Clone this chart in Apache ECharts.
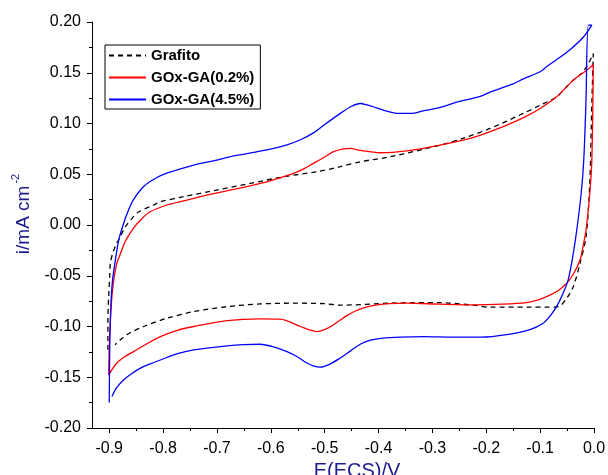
<!DOCTYPE html>
<html>
<head>
<meta charset="utf-8">
<script src="https://cdn.jsdelivr.net/npm/echarts@6/dist/echarts.min.js"></script>
<style>
  html, body { margin: 0; padding: 0; background: #fff; }
  #cv { width: 608px; height: 475px; }
</style>
</head>
<body>
<div id="cv"></div>
<script>
// cyclic voltammograms, values
// each loop: up the -0.9 edge, anodic branch to 0.0, down, cathodic branch back

const grafitoE = [-0.9025, -0.9025, -0.901, -0.899, -0.898, -0.893, -0.886, -0.8825, -0.870, -0.855, -0.845, -0.8176, -0.805, -0.762, -0.700, -0.638, -0.5765, -0.5145, -0.471, -0.434, -0.3785, -0.2857, -0.240, -0.193, -0.131, -0.100, -0.069, -0.057, -0.040, -0.026, -0.0135, -0.0013,
  -0.002, -0.004, -0.008, -0.0148, -0.026, -0.0384, -0.0506, -0.066, -0.090, -0.119, -0.193, -0.224, -0.2857, -0.3785, -0.471, -0.500, -0.558, -0.620, -0.681, -0.743, -0.793, -0.836, -0.867, -0.889];
const grafitoI = [-0.123, -0.095, -0.070, -0.050, -0.0377, -0.027, -0.018, -0.0148, -0.0017, 0.0082, 0.013, 0.0197, 0.0229, 0.0279, 0.0344, 0.041, 0.0475, 0.0525, 0.0574, 0.0623, 0.0672, 0.0787, 0.086, 0.0951, 0.110, 0.118, 0.1263, 0.1329, 0.142, 0.148, 0.156, 0.169,
  0.169, 0.120, 0.040, -0.0115, -0.0377, -0.0607, -0.0722, -0.0804, -0.081, -0.081, -0.081, -0.079, -0.0765, -0.077, -0.079, -0.0775, -0.077, -0.0778, -0.0804, -0.0853, -0.0919, -0.100, -0.108, -0.118];

const ga02E = [-0.901, -0.900, -0.898, -0.895, -0.891, -0.886, -0.8825, -0.870, -0.855, -0.840, -0.824, -0.793, -0.760, -0.731, -0.669, -0.607, -0.580, -0.558, -0.540, -0.521, -0.500, -0.4836, -0.465, -0.4527, -0.434, -0.410, -0.397, -0.3475, -0.2857, -0.224, -0.162, -0.130, -0.100, -0.070, -0.0384, -0.015, -0.0013,
  -0.002, -0.004, -0.008, -0.0148, -0.020, -0.026, -0.038, -0.0506, -0.065, -0.0755, -0.088, -0.105, -0.125, -0.170, -0.224, -0.2857, -0.3475, -0.380, -0.405, -0.425, -0.442, -0.458, -0.475, -0.492, -0.5145, -0.530, -0.545, -0.5826, -0.620, -0.681, -0.743, -0.775, -0.805, -0.830, -0.855, -0.872, -0.886, -0.901];
const ga02I = [-0.148, -0.120, -0.095, -0.0705, -0.052, -0.0377, -0.0328, -0.016, -0.003, 0.006, 0.013, 0.0197, 0.024, 0.028, 0.035, 0.0426, 0.047, 0.0509, 0.055, 0.0607, 0.067, 0.0722, 0.075, 0.0755, 0.0735, 0.0718, 0.0712, 0.0731, 0.0787, 0.0863, 0.0984, 0.106, 0.1148, 0.126, 0.1427, 0.152, 0.158,
  0.158, 0.064, 0.030, -0.005, -0.020, -0.0344, -0.048, -0.0574, -0.064, -0.0673, -0.0705, -0.074, -0.0764, -0.078, -0.0787, -0.078, -0.077, -0.0775, -0.0790, -0.0812, -0.0845, -0.0890, -0.0950, -0.1010, -0.105, -0.103, -0.100, -0.0928, -0.0925, -0.0942, -0.100, -0.104, -0.110, -0.117, -0.1247, -0.130, -0.136, -0.1476];

const ga45E = [-0.900, -0.899, -0.897, -0.894, -0.889, -0.882, -0.873, -0.864, -0.855, -0.836, -0.814, -0.793, -0.743, -0.700, -0.669, -0.607, -0.570, -0.545, -0.520, -0.500, -0.471, -0.450, -0.434, -0.420, -0.410, -0.390, -0.363, -0.340, -0.317, -0.285, -0.255, -0.210, -0.193, -0.150, -0.131, -0.100, -0.088, -0.069, -0.044, -0.020, -0.004,
  -0.0105, -0.015, -0.019, -0.024, -0.032, -0.040, -0.048, -0.058, -0.069, -0.082, -0.095, -0.119, -0.162, -0.210, -0.260, -0.317, -0.360, -0.392, -0.415, -0.434, -0.452, -0.471, -0.490, -0.508, -0.520, -0.533, -0.550, -0.570, -0.595, -0.620, -0.650, -0.681, -0.743, -0.775, -0.805, -0.825, -0.842, -0.860, -0.873, -0.886, -0.895];
const ga45I = [-0.175, -0.120, -0.080, -0.055, -0.036, -0.014, 0.002, 0.015, 0.025, 0.038, 0.046, 0.051, 0.059, 0.064, 0.068, 0.074, 0.079, 0.084, 0.091, 0.099, 0.110, 0.117, 0.1197, 0.118, 0.1165, 0.113, 0.110, 0.110, 0.1125, 0.116, 0.121, 0.127, 0.131, 0.139, 0.144, 0.151, 0.156, 0.163, 0.173, 0.185, 0.197,
  0.197, 0.120, 0.064, 0.030, -0.005, -0.033, -0.054, -0.068, -0.080, -0.090, -0.097, -0.103, -0.108, -0.1105, -0.1105, -0.110, -0.1105, -0.1115, -0.1135, -0.1175, -0.124, -0.131, -0.137, -0.140, -0.139, -0.136, -0.130, -0.1247, -0.120, -0.1175, -0.1178, -0.119, -0.123, -0.127, -0.133, -0.137, -0.141, -0.147, -0.1525, -0.160, -0.169];

const seriesNames = ['Grafito', 'GOx-GA(0.2%)', 'GOx-GA(4.5%)'];
const xTicks = [-0.9, -0.8, -0.7, -0.6, -0.5, -0.4, -0.3, -0.2, -0.1, 0.0];
const xMinorTicks = [-0.85, -0.75, -0.65, -0.55, -0.45, -0.35, -0.25, -0.15, -0.05];

function pairs(es, is) {
  return es.map((e, k) => [e, is[k]]);
}

const navy = '#1c1c8f';
const font = 'Liberation Sans, Arial, sans-serif';

let chartDom = document.getElementById('cv');
var chart = echarts.init(chartDom, null, { renderer: 'canvas' });

const option = {
  animation: false,
  backgroundColor: '#fff',
  grid: { left: 92, right: 14, top: 22, bottom: 47, outerBoundsMode: 'none', containLabel: false },
  legend: {
    left: 105,
    top: 45,
    orient: 'vertical',
    borderColor: '#000',
    borderWidth: 1,
    borderRadius: 0,
    padding: [3, 6, 2, 3],
    itemGap: 7,
    itemWidth: 37,
    itemHeight: 14,
    itemStyle: { opacity: 0 },
    textStyle: { fontFamily: font, fontWeight: 'bold', fontSize: 15, color: '#000' },
    data: seriesNames
  },
  xAxis: [
    {
      type: 'value',
      min: -0.932,
      max: 0,
      position: 'bottom',
      splitLine: { show: false },
      axisLine: { onZero: false, lineStyle: { color: '#000', width: 1 } },
      axisTick: { customValues: xTicks, length: 5, lineStyle: { color: '#000' } },
      axisLabel: {
        customValues: xTicks,
        margin: 13,
        fontFamily: font,
        fontSize: 16,
        color: '#000',
        formatter: v => v.toFixed(1)
      },
      name: 'E(ECS)/V',
      nameLocation: 'middle',
      nameGap: 33,
      nameTextStyle: { fontFamily: font, fontSize: 20, color: navy, padding: [0, 0, 0, 28] }
    },
    {
      // minor ticks only
      type: 'value',
      min: -0.932,
      max: 0,
      position: 'bottom',
      offset: 0,
      splitLine: { show: false },
      axisLine: { show: false, onZero: false },
      axisTick: { customValues: xMinorTicks, length: 3, lineStyle: { color: '#000' } },
      axisLabel: { show: false }
    }
  ],
  yAxis: {
    type: 'value',
    min: -0.2,
    max: 0.2,
    interval: 0.05,
    splitLine: { show: false },
    axisLine: { show: true, onZero: false, lineStyle: { color: '#000', width: 1 } },
    axisTick: { show: true, length: 5, lineStyle: { color: '#000' } },
    minorTick: { show: true, splitNumber: 2, length: 3, lineStyle: { color: '#000' } },
    axisLabel: {
      margin: 11,
      fontFamily: font,
      fontSize: 16,
      color: '#000',
      formatter: v => v.toFixed(2)
    },
    name: '{a|i/mA cm}{b|-2}',
    nameLocation: 'middle',
    nameGap: 52,
    nameTextStyle: {
      color: navy,
      padding: [0, 0, 0, 22],
      rich: {
        a: { fontFamily: font, fontSize: 19, color: navy, lineHeight: 28 },
        b: { fontFamily: font, fontSize: 11, color: navy, lineHeight: 12, verticalAlign: 'top', padding: [0, 0, 0, 2] }
      }
    }
  },
  series: [
    {
      name: seriesNames[0],
      type: 'line',
      symbol: 'none',
      smooth: 0.3,
      lineStyle: { color: '#000', width: 1.3, type: [5, 4] },
      itemStyle: { color: '#000' },
      data: pairs(grafitoE, grafitoI)
    },
    {
      name: seriesNames[1],
      type: 'line',
      symbol: 'none',
      smooth: 0.3,
      lineStyle: { color: '#ff0000', width: 1.3 },
      itemStyle: { color: '#ff0000' },
      data: pairs(ga02E, ga02I)
    },
    {
      name: seriesNames[2],
      type: 'line',
      symbol: 'none',
      smooth: 0.3,
      lineStyle: { color: '#0000ff', width: 1.3 },
      itemStyle: { color: '#0000ff' },
      data: pairs(ga45E, ga45I)
    }
  ]
};

chart.setOption(option);
</script>
</body>
</html>
